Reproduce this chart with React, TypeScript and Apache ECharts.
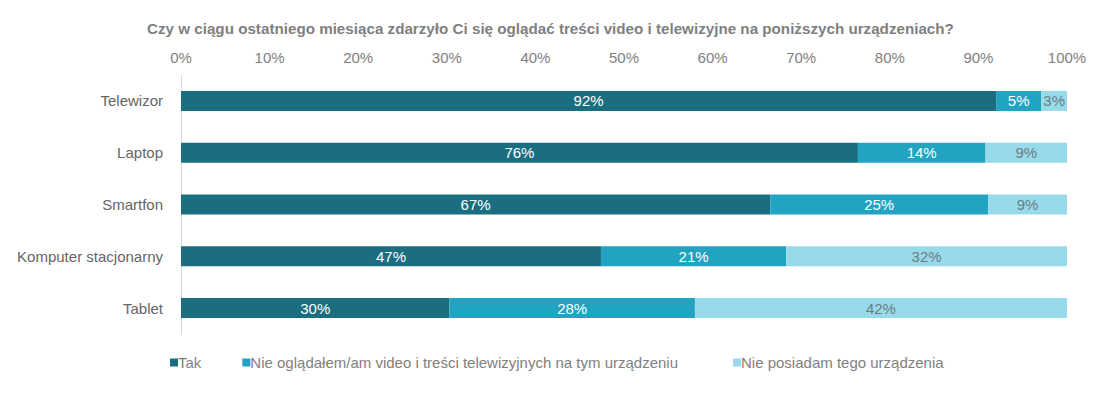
import React, { useEffect, useRef } from "react";
import * as echarts from "echarts";

const categories = ["Telewizor", "Laptop", "Smartfon", "Komputer stacjonarny", "Tablet"];
const seriesNames = [
  "Tak",
  "Nie oglądałem/am video i treści telewizyjnych na tym urządzeniu",
  "Nie posiadam tego urządzenia",
];
const tak = [92.0, 76.4, 66.5, 47.4, 30.3];
const nieOgladalem = [5.1, 14.4, 24.6, 20.9, 27.7];
const nieposiadam = [2.9, 9.2, 8.9, 31.7, 42.0];
const xTicks = [0, 10, 20, 30, 40, 50, 60, 70, 80, 90, 100];

const colors = ["#1a6e80", "#22a3c2", "#97dbea"];
const labelColors = ["#ffffff", "#ffffff", "#6b7b86"];
const FONT = "Liberation Sans, Arial, sans-serif";

export default function App() {
  const ref = useRef<HTMLDivElement>(null);
  useEffect(() => {
    document.body.style.margin = "0";
    if (!ref.current) return;
    const chart = echarts.init(ref.current, null, { renderer: "svg" });
    const data = [tak, nieOgladalem, nieposiadam];
    const legendBase = {
      top: 350,
      itemWidth: 8,
      itemHeight: 8,
      itemGap: 41,
      icon: "rect",
      textStyle: { fontSize: 15, color: "#7f7f7f", fontFamily: FONT, padding: [0, 0, 0, -5] },
    };
    chart.setOption({
      animation: false,
      textStyle: { fontFamily: FONT },
      title: {
        text: "Czy w ciągu ostatniego miesiąca zdarzyło Ci się oglądać treści video i telewizyjne na poniższych urządzeniach?",
        left: 142,
        top: 16,
        textStyle: { fontSize: 15.2, fontWeight: "bold", color: "#7f7f7f", fontFamily: FONT },
      },
      legend: [
        { ...legendBase, left: 165, data: [seriesNames[0], seriesNames[1]] },
        { ...legendBase, left: 728, data: [seriesNames[2]] },
      ],
      grid: { left: 181, right: 40, top: 75, height: 259, containLabel: false },
      xAxis: {
        type: "value",
        position: "top",
        min: 0,
        max: 100,
        interval: 10,
        axisLine: { show: false },
        axisTick: { show: false },
        splitLine: { show: false },
        axisLabel: {
          formatter: (v: number) => (xTicks.includes(v) ? v + "%" : ""),
          fontSize: 15,
          color: "#808080",
          margin: 10,
        },
      },
      yAxis: {
        type: "category",
        data: categories,
        inverse: true,
        axisLine: { show: true, lineStyle: { color: "#d9d9d9", width: 1 } },
        axisTick: { show: false },
        axisLabel: { fontSize: 15, color: "#666666", margin: 18 },
      },
      series: seriesNames.map((name, i) => ({
        name,
        type: "bar",
        stack: "total",
        barWidth: 20,
        data: data[i],
        itemStyle: { color: colors[i] },
        label: {
          show: true,
          position: "inside",
          formatter: (p: any) => Math.round(p.value) + "%",
          fontSize: 15,
          color: labelColors[i],
          fontFamily: FONT,
        },
      })),
    });
    return () => chart.dispose();
  }, []);
  return <div ref={ref} style={{ width: 1107, height: 394 }} />;
}
